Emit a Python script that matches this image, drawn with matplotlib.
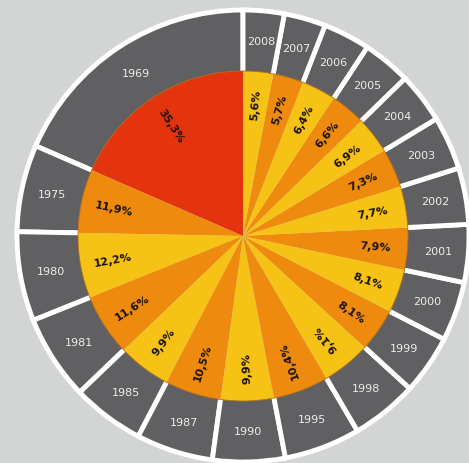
import numpy as np
import matplotlib
matplotlib.use("Agg")
import matplotlib.pyplot as plt
from matplotlib.patches import Circle

# Daten (Anteile je Jahr, gelesen vom Bild)
jahre = ['1969', '1975', '1980', '1981', '1985', '1987', '1990', '1995', '1998',
         '1999', '2000', '2001', '2002', '2003', '2004', '2005', '2006', '2007', '2008']
anteile = [35.3, 11.9, 12.2, 11.6, 9.9, 10.5, 9.9, 10.4, 9.1,
           8.1, 8.1, 7.9, 7.7, 7.3, 6.9, 6.6, 6.4, 5.7, 5.6]
beschriftung = ['35,3%', '11,9%', '12,2%', '11,6%', '9,9%', '10,5%', '9,9%', '10,4%', '9,1%',
                '8,1%', '8,1%', '7,9%', '7,7%', '7,3%', '6,9%', '6,6%', '6,4%', '5,7%', '5,6%']

# Farben
rot = '#e3340f'
orange = '#ee8a0e'
gelb = '#f6c215'
grau = '#606063'
hintergrund = '#d3d4d4'

farben = [rot] + [orange if i % 2 == 1 else gelb for i in range(1, len(anteile))]

# Geometrie in Pixeln
W, H = 469, 464
mitte = (243, 227)
r_kuchen = 165
r_ring = 226

fig = plt.figure(figsize=(W / 100, H / 100), dpi=100)
fig.patch.set_facecolor(hintergrund)
ax = fig.add_axes([0, 0, 1, 1])
ax.set_facecolor(hintergrund)

# aeusserer Ring mit Jahren
ring, _ = ax.pie(anteile, radius=r_ring, center=mitte, startangle=90, counterclock=True,
                 colors=[grau] * len(anteile),
                 wedgeprops=dict(width=r_ring - r_kuchen + 4, edgecolor='white', linewidth=3.5))

# innerer Kuchen
keile, _ = ax.pie(anteile, radius=r_kuchen, center=mitte, startangle=90, counterclock=True,
                  colors=farben, wedgeprops=dict(linewidth=0))
ax.add_patch(Circle(mitte, r_kuchen, fill=False, edgecolor='#b5701c', linewidth=0.6, zorder=3))

for keil, jahr, txt in zip(keile, jahre, beschriftung):
    winkel = (keil.theta1 + keil.theta2) / 2
    w = winkel % 360
    if w > 180:
        w -= 360
    # Drehung wie im Original: rechts nach aussen lesen, sonst nach innen
    if -45 < w < 100:
        rot_txt = w
    else:
        rot_txt = w - 180
    rad = np.deg2rad(winkel)
    ax.text(mitte[0] + 0.8 * r_kuchen * np.cos(rad), mitte[1] + 0.8 * r_kuchen * np.sin(rad),
            txt, rotation=rot_txt, rotation_mode='anchor', ha='center', va='center',
            fontsize=8, fontweight='bold', color='#1a1208', zorder=4)
    r_j = (r_kuchen + r_ring) / 2
    ax.text(mitte[0] + r_j * np.cos(rad), mitte[1] + r_j * np.sin(rad), jahr,
            ha='center', va='center', fontsize=8, color='#ececec', zorder=4)

ax.set_xlim(0, W)
ax.set_ylim(0, H)
ax.set_aspect('equal')
ax.axis('off')

fig.savefig('out.png', dpi=100, facecolor=hintergrund)
